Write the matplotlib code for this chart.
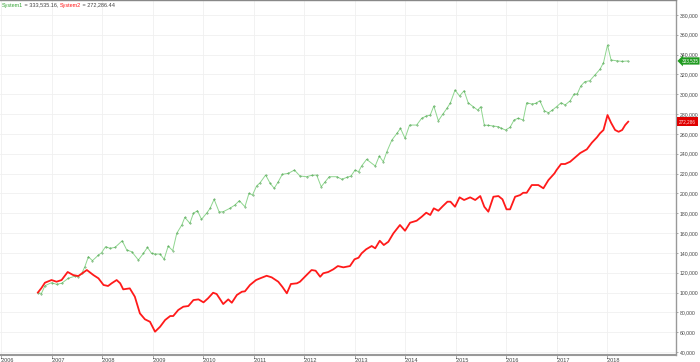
import matplotlib
matplotlib.use("Agg")
from matplotlib import pyplot as plt

# values (x in decimal years, equity in dollars / 1000)
sys1_t = [2006.73, 2006.80, 2006.87, 2007.00, 2007.10, 2007.20, 2007.33, 2007.47, 2007.53, 2007.60,
          2007.66, 2007.73, 2007.81, 2007.93, 2007.99, 2008.07, 2008.16, 2008.26, 2008.40, 2008.49,
          2008.59, 2008.72, 2008.82, 2008.90, 2008.98, 2009.05, 2009.15, 2009.23, 2009.31, 2009.40,
          2009.48, 2009.58, 2009.64, 2009.74, 2009.81, 2009.89, 2009.97, 2010.07, 2010.14, 2010.22,
          2010.32, 2010.40, 2010.53, 2010.63, 2010.72, 2010.83, 2010.91, 2010.98, 2011.06, 2011.13,
          2011.24, 2011.33, 2011.41, 2011.49, 2011.57, 2011.69, 2011.81, 2011.92, 2012.05, 2012.15,
          2012.25, 2012.34, 2012.42, 2012.50, 2012.65, 2012.75, 2012.85, 2012.93, 2013.01, 2013.08,
          2013.14, 2013.24, 2013.41, 2013.49, 2013.57, 2013.64, 2013.74, 2013.84, 2013.91, 2014.00,
          2014.09, 2014.23, 2014.33, 2014.42, 2014.50, 2014.57, 2014.66, 2014.75, 2014.83, 2014.90,
          2014.99, 2015.08, 2015.17, 2015.25, 2015.35, 2015.44, 2015.50, 2015.57, 2015.65, 2015.75,
          2015.85, 2015.91, 2015.99, 2016.08, 2016.16, 2016.24, 2016.34, 2016.41, 2016.51, 2016.59,
          2016.67, 2016.76, 2016.84, 2016.92, 2017.00, 2017.09, 2017.17, 2017.27, 2017.35, 2017.41,
          2017.48, 2017.56, 2017.66, 2017.76, 2017.86, 2017.93, 2018.01, 2018.08, 2018.19, 2018.30,
          2018.41]
sys1_v = [100.0, 99.0, 106.9, 109.9, 108.3, 109.3, 114.3, 116.6, 115.9, 119.4,
          126.0, 136.1, 132.1, 137.8, 140.1, 146.2, 144.6, 145.6, 152.2, 142.9,
          141.1, 132.8, 139.5, 145.6, 139.5, 138.8, 138.8, 133.5, 146.9, 142.2,
          159.7, 168.1, 175.8, 169.8, 179.9, 182.5, 173.8, 179.9, 184.9, 194.0,
          181.2, 181.5, 184.9, 188.2, 192.6, 186.5, 200.0, 198.3, 207.4, 210.7,
          218.5, 210.1, 205.1, 211.7, 219.2, 220.2, 223.5, 217.5, 216.8, 218.2,
          218.5, 206.7, 211.7, 216.8, 216.8, 214.2, 216.2, 217.5, 223.5, 221.8,
          227.6, 234.3, 227.6, 237.6, 231.9, 242.0, 253.8, 260.5, 265.6, 255.5,
          268.9, 268.9, 275.7, 278.0, 279.0, 288.1, 273.2, 280.0, 285.7, 291.4,
          304.2, 298.2, 303.5, 291.4, 287.4, 284.0, 287.4, 268.9, 268.6, 267.9,
          267.2, 265.6, 263.9, 266.6, 274.0, 275.7, 274.0, 291.4, 290.1, 290.8,
          293.4, 283.3, 281.3, 284.0, 287.4, 291.4, 289.1, 293.4, 300.2, 300.2,
          308.2, 312.6, 313.6, 319.3, 325.1, 331.7, 349.6, 334.5, 333.7, 333.1,
          333.5]

sys2_t = [2006.73, 2006.80, 2006.87, 2007.00, 2007.10, 2007.20, 2007.32, 2007.43, 2007.53, 2007.70,
          2007.83, 2007.93, 2008.03, 2008.12, 2008.19, 2008.29, 2008.36, 2008.42, 2008.55, 2008.65,
          2008.75, 2008.85, 2008.95, 2009.05, 2009.15, 2009.25, 2009.35, 2009.41, 2009.51, 2009.61,
          2009.71, 2009.81, 2009.91, 2010.01, 2010.10, 2010.20, 2010.27, 2010.34, 2010.40, 2010.50,
          2010.57, 2010.67, 2010.77, 2010.83, 2010.93, 2011.05, 2011.13, 2011.26, 2011.36, 2011.49,
          2011.57, 2011.66, 2011.74, 2011.86, 2011.92, 2012.05, 2012.15, 2012.23, 2012.32, 2012.38,
          2012.48, 2012.58, 2012.67, 2012.78, 2012.91, 2013.00, 2013.08, 2013.14, 2013.23, 2013.34,
          2013.41, 2013.50, 2013.58, 2013.67, 2013.77, 2013.90, 2014.00, 2014.10, 2014.23, 2014.33,
          2014.42, 2014.50, 2014.57, 2014.66, 2014.75, 2014.84, 2014.90, 2014.99, 2015.08, 2015.17,
          2015.29, 2015.39, 2015.49, 2015.57, 2015.65, 2015.75, 2015.85, 2015.93, 2016.01, 2016.08,
          2016.18, 2016.28, 2016.34, 2016.41, 2016.51, 2016.64, 2016.74, 2016.84, 2016.96, 2017.00,
          2017.09, 2017.17, 2017.27, 2017.37, 2017.47, 2017.60, 2017.70, 2017.80, 2017.86, 2017.93,
          2018.01, 2018.08, 2018.16, 2018.23, 2018.30, 2018.36, 2018.42]
sys2_v = [100.0, 104.5, 109.9, 112.6, 110.9, 112.6, 120.7, 117.6, 116.6, 122.7,
          117.6, 114.3, 107.6, 106.6, 109.3, 112.6, 109.3, 103.2, 104.2, 95.8,
          79.0, 73.0, 70.5, 60.5, 65.5, 72.3, 76.3, 76.3, 82.4, 85.7,
          86.4, 92.4, 93.1, 90.1, 94.2, 99.8, 98.5, 93.1, 88.4, 93.1,
          89.7, 97.5, 100.8, 101.2, 107.6, 112.6, 114.3, 116.9, 115.3, 110.9,
          105.8, 99.2, 108.6, 109.3, 110.9, 117.6, 122.7, 122.0, 115.9, 119.4,
          120.7, 123.4, 126.7, 125.4, 126.7, 133.5, 135.1, 139.5, 143.6, 146.9,
          144.6, 152.2, 147.9, 151.2, 159.7, 168.1, 162.3, 170.4, 172.4, 176.4,
          180.5, 178.2, 184.9, 182.5, 187.2, 191.6, 191.6, 186.5, 196.0, 193.3,
          196.0, 193.3, 197.3, 186.5, 181.5, 196.6, 197.3, 194.0, 183.9, 183.9,
          196.6, 198.3, 200.6, 200.6, 208.4, 208.4, 205.1, 213.4, 220.2, 223.5,
          229.6, 229.6, 231.9, 236.3, 240.7, 244.4, 251.1, 256.5, 260.5, 263.9,
          279.0, 271.2, 263.9, 262.1, 263.9, 268.9, 272.3]

years = list(range(2006, 2019))
y_ticks = list(range(40000, 380001, 20000))
sys1_last = 333535.16
sys2_last = 272286.44

green = '#3aa63a'
red = '#ff1a1a'
txt = '#444444'

plt.rcParams['font.family'] = ['Liberation Sans', 'DejaVu Sans']

fig = plt.figure(figsize=(7.0, 3.62), dpi=100)
ax = fig.add_axes([0.0, 7 / 362, 676 / 700, 355 / 362])

ax.plot(sys1_t, [v * 1000 for v in sys1_v], color='#8fd68f', lw=0.7,
        marker='.', ms=0.7, mfc='#3c963c', mec='#3c963c', zorder=3)
ax.plot(sys2_t, [v * 1000 for v in sys2_v], color=red, lw=1.3, zorder=3)

ax.set_xlim(2005.98, 2019.366)
ax.set_ylim(37000, 395000)

ax.set_xticks(years)
ax.set_xticklabels(["'%d" % y for y in years], fontsize=4.0, color=txt)
for lab in ax.get_xticklabels():
    lab.set_horizontalalignment('left')
ax.tick_params(axis='x', length=2, width=0.5, color='#888888', pad=0.5)

ax.yaxis.tick_right()
ax.set_yticks(y_ticks)
ax.set_yticklabels(['{:,}'.format(v) for v in y_ticks], fontsize=3.7, color=txt)
ax.tick_params(axis='y', length=1.5, width=0.5, color='#888888', pad=1.2)

ax.grid(True, color='#f0f0f0', lw=0.6, zorder=0)

ax.spines['left'].set_visible(False)
ax.spines['right'].set_color('#999999')
ax.spines['bottom'].set_color('#999999')
ax.spines['right'].set_linewidth(1.0)
ax.spines['bottom'].set_linewidth(1.5)
ax.spines['top'].set_color('#888888')
ax.spines['top'].set_linewidth(1.0)

# value tags on the price axis
ytr = ax.get_yaxis_transform()
ax.text(1.008, sys1_last, '{:,.0f}'.format(sys1_last), transform=ytr, fontsize=3.3,
        color='white', va='center', ha='left', zorder=5, clip_on=False,
        bbox=dict(boxstyle='larrow,pad=0.25', fc='#1f9a1f', ec='none'))
ax.text(1.004, sys2_last, '{:,.0f}'.format(sys2_last), transform=ytr, fontsize=3.3,
        color='#ffdddd', va='center', ha='left', zorder=5, clip_on=False,
        bbox=dict(boxstyle='square,pad=0.4', fc='#e00000', ec='none'))

# header line with coloured names
parts = [('System1', green), (' = {:,.2f}, '.format(sys1_last), txt),
         ('System2', red), (' = {:,.2f}'.format(sys2_last), txt)]
fig.canvas.draw()
renderer = fig.canvas.get_renderer()
x = 2
for s, c in parts:
    t = fig.text(x / 700, 1 - 5 / 362, s, fontsize=4.0, color=c, va='center', ha='left')
    bb = t.get_window_extent(renderer)
    x = bb.x1

fig.savefig('out.png', dpi=100)
